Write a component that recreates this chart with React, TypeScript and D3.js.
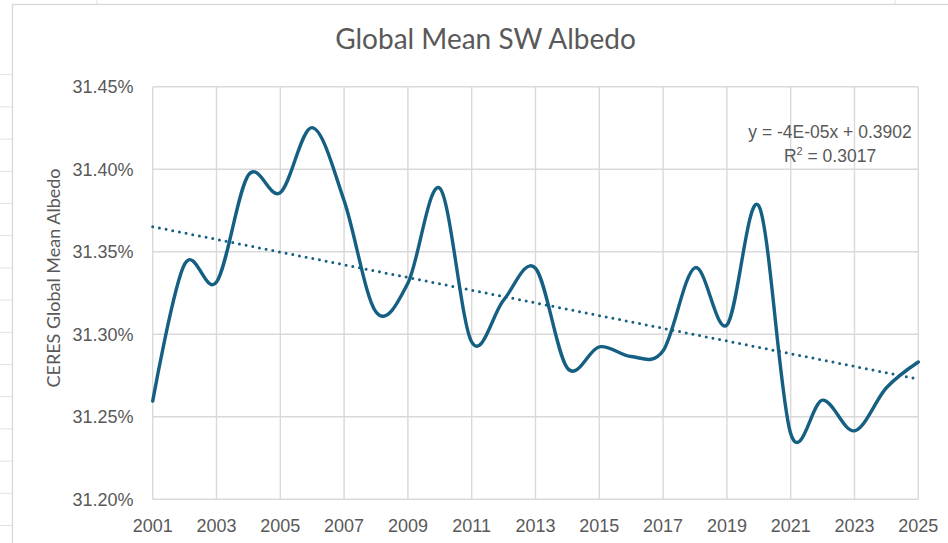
import React, { useEffect, useRef } from "react";
import * as d3 from "d3";

// CERES global mean SW albedo (%), yearly
const years = [
  2001, 2002, 2003, 2004, 2005, 2006, 2007, 2008, 2009, 2010, 2011, 2012, 2013,
  2014, 2015, 2016, 2017, 2018, 2019, 2020, 2021, 2022, 2023, 2024, 2025,
];
const albedo = [
  31.2595, 31.3425, 31.3316, 31.3965, 31.3858, 31.4252, 31.381, 31.3135, 31.331,
  31.3884, 31.2953, 31.3207, 31.34, 31.2795, 31.2924, 31.2865, 31.29, 31.3403,
  31.3056, 31.3778, 31.2398, 31.2601, 31.2415, 31.2676, 31.2832,
];
const yTicks = [31.2, 31.25, 31.3, 31.35, 31.4, 31.45];
const xTicks = [2001, 2003, 2005, 2007, 2009, 2011, 2013, 2015, 2017, 2019, 2021, 2023, 2025];
const equationLines = ["y = -4E-05x + 0.3902", "0.3017"];

const W = 948;
const H = 543;
const LINE = "#156082";
const GRID = "#d9d9d9";
const TEXT = "#595959";

const App = () => {
  const ref = useRef<SVGSVGElement>(null);

  useEffect(() => {
    drawChart();
    //eslint-disable-next-line
  }, []);

  function drawChart() {
    const svg = d3.select(ref.current);
    svg.selectAll("*").remove();

    const plot = { left: 152.7, right: 918.3, top: 86.7, bottom: 499.3 };

    // spreadsheet cells peeking out behind the chart
    const sheet = svg.append("g").attr("stroke", "#e1e1e1").attr("stroke-width", 1);
    for (let yy = 74.7; yy < H; yy += 32.2) {
      sheet.append("line").attr("x1", 0).attr("x2", 12).attr("y1", yy).attr("y2", yy);
    }
    [97, 895].forEach((xx) =>
      sheet.append("line").attr("x1", xx).attr("x2", xx).attr("y1", 0).attr("y2", 4)
    );

    // chart area
    svg
      .append("rect")
      .attr("x", 12.5)
      .attr("y", 4.5)
      .attr("width", W + 20)
      .attr("height", H + 20)
      .attr("fill", "#fff")
      .attr("stroke", GRID)
      .attr("stroke-width", 1.3);

    const x = d3.scaleLinear().domain([2001, 2025]).range([plot.left, plot.right]);
    const y = d3.scaleLinear().domain([31.2, 31.45]).range([plot.bottom, plot.top]);

    // gridlines
    const grid = svg.append("g").attr("stroke", GRID).attr("stroke-width", 1.4);
    grid
      .selectAll("line.h")
      .data(yTicks)
      .enter()
      .append("line")
      .attr("x1", plot.left)
      .attr("x2", plot.right)
      .attr("y1", (d) => y(d))
      .attr("y2", (d) => y(d));
    grid
      .selectAll("line.v")
      .data(xTicks)
      .enter()
      .append("line")
      .attr("y1", plot.top)
      .attr("y2", plot.bottom)
      .attr("x1", (d) => x(d))
      .attr("x2", (d) => x(d));

    // tick labels
    const tickFont = "'Liberation Sans', Arial, sans-serif";
    svg
      .append("g")
      .selectAll("text")
      .data(yTicks)
      .enter()
      .append("text")
      .attr("x", 133.5)
      .attr("y", (d) => y(d))
      .attr("dy", "0.36em")
      .attr("text-anchor", "end")
      .attr("font-family", tickFont)
      .attr("font-size", 18)
      .attr("fill", TEXT)
      .text((d) => d3.format(".2f")(d) + "%");
    svg
      .append("g")
      .selectAll("text")
      .data(xTicks)
      .enter()
      .append("text")
      .attr("x", (d) => x(d))
      .attr("y", 532)
      .attr("text-anchor", "middle")
      .attr("font-family", tickFont)
      .attr("font-size", 18)
      .attr("fill", TEXT)
      .text((d) => String(d));

    // linear trend (least squares on the year index, like Excel)
    const idx = years.map((_, i) => i + 1);
    const mx = d3.mean(idx) as number;
    const my = d3.mean(albedo) as number;
    const slope =
      (d3.sum(idx, (v, i) => (v - mx) * (albedo[i] - my)) as number) /
      (d3.sum(idx, (v) => (v - mx) * (v - mx)) as number);
    const icpt = my - slope * mx;
    svg
      .append("line")
      .attr("x1", x(years[0]))
      .attr("x2", x(years[years.length - 1]))
      .attr("y1", y(icpt + slope * idx[0]))
      .attr("y2", y(icpt + slope * idx[idx.length - 1]))
      .attr("stroke", LINE)
      .attr("stroke-width", 3)
      .attr("stroke-linecap", "round")
      .attr("stroke-dasharray", "0 6.8");

    // smoothed series
    const line = d3
      .line<number>()
      .x((_, i) => x(years[i]))
      .y((d) => y(d))
      .curve(d3.curveCardinal.tension(0));
    svg
      .append("path")
      .datum(albedo)
      .attr("d", line)
      .attr("fill", "none")
      .attr("stroke", LINE)
      .attr("stroke-width", 3.4)
      .attr("stroke-linejoin", "round")
      .attr("stroke-linecap", "round");

    // trend equation
    const eq = svg
      .append("g")
      .attr("font-family", "'Liberation Sans Narrow', 'Liberation Sans', Arial, sans-serif")
      .attr("font-size", 17.5)
      .attr("fill", TEXT)
      .attr("text-anchor", "middle");
    eq.append("text").attr("x", 830).attr("y", 137.7).text(equationLines[0]);
    const r2 = eq.append("text").attr("x", 830).attr("y", 162.3);
    r2.append("tspan").text("R");
    r2.append("tspan").attr("font-size", 11).attr("dy", -7).text("2");
    r2.append("tspan").attr("dy", 7).text(" = " + equationLines[1]);

    // title
    svg
      .append("text")
      .attr("x", 485.5)
      .attr("y", 49.3)
      .attr("text-anchor", "middle")
      .attr("font-family", "Lato, 'Noto Sans', sans-serif")
      .attr("font-size", 28)
      .attr("fill", TEXT)
      .text("Global Mean SW Albedo");

    // y axis title
    svg
      .append("text")
      .attr("transform", "translate(54,278) rotate(-90)")
      .attr("dy", "0.35em")
      .attr("text-anchor", "middle")
      .attr("font-family", "Lato, 'Noto Sans', sans-serif")
      .attr("font-size", 18)
      .attr("fill", TEXT)
      .text("CERES Global Mean Albedo");
  }

  return (
    <svg
      ref={ref}
      width={W}
      height={H}
      style={{ position: "fixed", left: 0, top: 0, background: "#fff" }}
    />
  );
};

export default App;
